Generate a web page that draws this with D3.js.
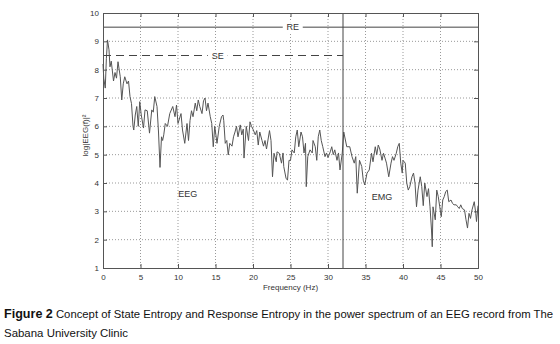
<!DOCTYPE html>
<html>
<head>
<meta charset="utf-8">
<script src="https://cdn.jsdelivr.net/npm/d3@7"></script>
<style>
  body { margin: 0; background: #fff; }
  svg { display: block; font-family: "Liberation Sans", Arial, sans-serif; }
</style>
</head>
<body>
<div id="chart-area"></div>
<script>
// spectrum
var freq = [0.0,0.1,0.3,0.45,0.6,0.8,0.93,1.1,1.4,1.6,1.8,2.0,2.3,2.5,2.7,2.9,3.2,3.4,3.6,3.8,
  4.0,4.1,4.3,4.5,4.7,4.9,5.1,5.4,5.6,5.9,6.2,6.5,6.7,6.9,7.2,7.4,7.6,7.8,7.95,8.1,
  8.3,8.6,8.9,9.3,9.6,9.8,10.0,10.4,10.6,10.9,11.2,11.4,11.6,11.8,12.0,12.3,12.5,12.7,12.9,13.2,
  13.4,13.6,13.8,14.0,14.3,14.5,14.7,14.9,15.2,15.5,15.8,16.0,16.1,16.3,16.5,16.7,16.9,17.2,17.4,17.6,
  17.8,18.0,18.3,18.5,18.7,18.8,19.1,19.4,19.6,19.8,20.0,20.3,20.5,20.7,20.9,21.2,21.4,21.6,21.8,22.2,
  22.4,22.6,22.8,23.1,23.2,23.5,23.8,24.0,24.1,24.4,24.6,24.8,25.0,25.2,25.5,25.7,25.9,26.1,26.4,26.6,
  26.8,27.0,27.1,27.3,27.6,27.9,28.0,28.3,28.5,28.7,28.9,29.1,29.3,29.6,29.8,30.0,30.3,30.5,30.7,30.9,
  31.2,31.4,31.6,31.9,32.1,32.5,32.9,33.2,33.5,33.7,33.9,34.2,34.5,34.7,34.9,35.2,35.5,35.8,36.0,36.3,
  36.5,36.7,36.9,37.2,37.4,37.6,37.8,38.1,38.4,38.6,38.8,39.1,39.3,39.5,39.7,39.9,40.0,40.3,40.5,40.7,
  40.9,41.2,41.4,41.6,41.8,42.0,42.3,42.5,42.7,42.9,43.2,43.4,43.6,43.8,43.9,44.0,44.3,44.5,44.7,44.9,
  45.1,45.3,45.5,45.7,45.9,46.1,46.4,46.6,46.8,47.1,47.3,47.5,47.7,47.9,48.2,48.4,48.6,48.8,49.0,49.2,
  49.5,49.7,49.8,50.0];
var logPower = [8.2,7.7,7.35,8.4,9.05,8.7,8.1,8.3,7.6,7.9,7.7,8.28,7.75,6.93,7.5,7.75,7.5,7.6,7.05,6.8,
  6.0,5.87,6.4,6.7,6.0,6.87,6.4,5.94,6.58,6.55,5.76,6.58,6.5,7.05,6.7,5.8,4.55,5.63,5.5,5.7,
  6.1,6.0,6.45,6.7,6.34,6.75,6.1,6.45,5.87,5.4,6.1,5.5,6.2,6.55,6.34,6.82,6.55,6.93,6.7,6.45,
  6.9,7.0,6.55,6.82,6.34,6.1,5.28,6.0,5.4,6.0,6.34,6.4,6.2,5.4,5.5,4.99,5.4,5.3,5.63,5.8,
  6.0,5.63,6.05,5.7,5.9,4.88,6.0,5.5,6.16,6.0,5.9,5.7,5.85,5.34,5.8,5.5,5.3,5.5,5.2,5.85,
  5.5,4.22,5.05,4.75,5.1,5.05,4.7,5.06,4.58,4.17,4.1,4.8,4.8,5.17,5.06,5.63,5.87,5.28,5.8,5.63,
  5.06,5.4,3.87,4.93,5.17,5.06,5.5,5.28,4.8,5.63,5.87,5.5,5.28,4.93,5.06,4.9,5.1,5.28,5.0,5.17,
  4.8,5.06,4.46,5.06,5.8,5.28,5.28,4.93,4.7,4.93,3.64,4.8,4.58,4.1,3.93,4.35,4.46,5.05,4.75,5.28,
  5.0,5.34,5.2,4.8,5.05,4.88,4.7,4.22,4.7,4.93,4.8,5.05,5.28,5.4,4.7,4.35,4.8,4.7,4.0,3.75,
  3.87,4.22,4.35,4.0,3.16,3.75,4.22,3.87,3.2,4.0,3.52,3.8,3.16,2.34,1.75,3.16,2.7,3.75,3.52,3.16,
  2.81,3.4,3.52,3.7,3.75,3.34,3.4,3.28,3.23,3.23,3.16,3.1,3.23,3.1,3.05,2.7,2.41,2.93,2.75,3.05,
  3.34,2.93,2.64,3.2];

var xTicks = [0,5,10,15,20,25,30,35,40,45,50];
var yTicks = [1,2,3,4,5,6,7,8,9,10];

// RE / SE bands and region labels
var reLevel = 9.5, seLevel = 8.5, cutFreq = 32;
var regionLabels = [
  {text: "RE", f: 25.3, v: 9.5},
  {text: "SE", f: 15.3, v: 8.5},
  {text: "EEG", f: 11.3, v: 3.62},
  {text: "EMG", f: 37.2, v: 3.5}
];

var margin = {top: 13, left: 103};
var width = 375, height = 255;

var svg = d3.select("#chart-area").append("svg")
    .attr("width", 560).attr("height", 344);

var g = svg.append("g")
    .attr("transform", "translate(" + margin.left + "," + margin.top + ")");

var x = d3.scaleLinear().domain([0, 50]).range([0, width]);
var y = d3.scaleLinear().domain([1, 10]).range([height, 0]);

var axisCol = "#555";

// dotted grid
g.append("g").selectAll("line").data(xTicks.slice(1, -1)).enter().append("line")
    .attr("x1", d => x(d)).attr("x2", d => x(d))
    .attr("y1", 0).attr("y2", height)
    .attr("stroke", "#999").attr("stroke-dasharray", "1,2");
g.append("g").selectAll("line").data(yTicks.slice(1, -1)).enter().append("line")
    .attr("x1", 0).attr("x2", width)
    .attr("y1", d => y(d)).attr("y2", d => y(d))
    .attr("stroke", "#999").attr("stroke-dasharray", "1,2");

// spectrum
var line = d3.line().x((d, i) => x(freq[i])).y(d => y(d));
g.append("path")
    .datum(logPower)
    .attr("d", line)
    .attr("fill", "none")
    .attr("stroke", "#555")
    .attr("stroke-width", 1);

// RE line, SE dashed line, cutoff
g.append("line")
    .attr("x1", 0).attr("x2", width)
    .attr("y1", y(reLevel)).attr("y2", y(reLevel))
    .attr("stroke", "#444");
g.append("line")
    .attr("x1", 0).attr("x2", x(cutFreq))
    .attr("y1", y(seLevel)).attr("y2", y(seLevel))
    .attr("stroke", "#444").attr("stroke-dasharray", "8,5");
g.append("line")
    .attr("x1", x(cutFreq)).attr("x2", x(cutFreq))
    .attr("y1", 0).attr("y2", height)
    .attr("stroke", "#444");

var labs = g.append("g").selectAll("g").data(regionLabels).enter().append("g")
    .attr("transform", d => "translate(" + x(d.f) + "," + y(d.v) + ")");
labs.filter(d => d.text == "RE" || d.text == "SE").append("rect")
    .attr("x", -10).attr("y", -5).attr("width", 20).attr("height", 10)
    .attr("fill", "#fff");
labs.append("text")
    .attr("text-anchor", "middle")
    .attr("dy", "0.35em")
    .attr("font-size", "9px")
    .attr("fill", "#333")
    .text(d => d.text);

// axes (ticks inside, box all round)
var bottomAxis = d3.axisBottom(x).tickValues(xTicks).tickSize(-4).tickPadding(6);
var leftAxis = d3.axisLeft(y).tickValues(yTicks).tickSize(-4).tickPadding(4);

g.append("g").attr("transform", "translate(0," + height + ")").call(bottomAxis);
g.append("g").call(leftAxis);
g.append("g").call(d3.axisTop(x).tickValues(xTicks).tickSize(-4).tickFormat(""));
g.append("g").attr("transform", "translate(" + width + ",0)")
    .call(d3.axisRight(y).tickValues(yTicks).tickSize(-4).tickFormat(""));

g.selectAll(".domain").attr("stroke", axisCol);
g.selectAll(".tick line").attr("stroke", axisCol);
g.selectAll(".tick text")
    .attr("font-size", "8px")
    .attr("font-family", "Liberation Sans, Arial, sans-serif")
    .attr("fill", "#333");

g.append("text")
    .attr("x", width / 2).attr("y", height + 22)
    .attr("text-anchor", "middle")
    .attr("font-size", "8px").attr("fill", "#333")
    .text("Frequency (Hz)");

g.append("text")
    .attr("transform", "rotate(-90)")
    .attr("x", -height / 2 + 5).attr("y", -15)
    .attr("text-anchor", "middle")
    .attr("font-size", "8px").attr("fill", "#333")
    .text("log|EEG(f)|²");

// caption
var cap = svg.append("text").attr("x", 4).attr("y", 318).attr("fill", "#111")
    .attr("textLength", 549).attr("lengthAdjust", "spacingAndGlyphs");
cap.append("tspan").attr("font-weight", "bold").attr("font-size", "12px").text("Figure 2");
cap.append("tspan").attr("font-size", "10.8px")
    .text(" Concept of State Entropy and Response Entropy in the power spectrum of an EEG record from The");
svg.append("text").attr("x", 4).attr("y", 337).attr("fill", "#111")
    .attr("font-size", "10.8px")
    .attr("textLength", 124).attr("lengthAdjust", "spacingAndGlyphs")
    .text("Sabana University Clinic");
</script>
</body>
</html>
